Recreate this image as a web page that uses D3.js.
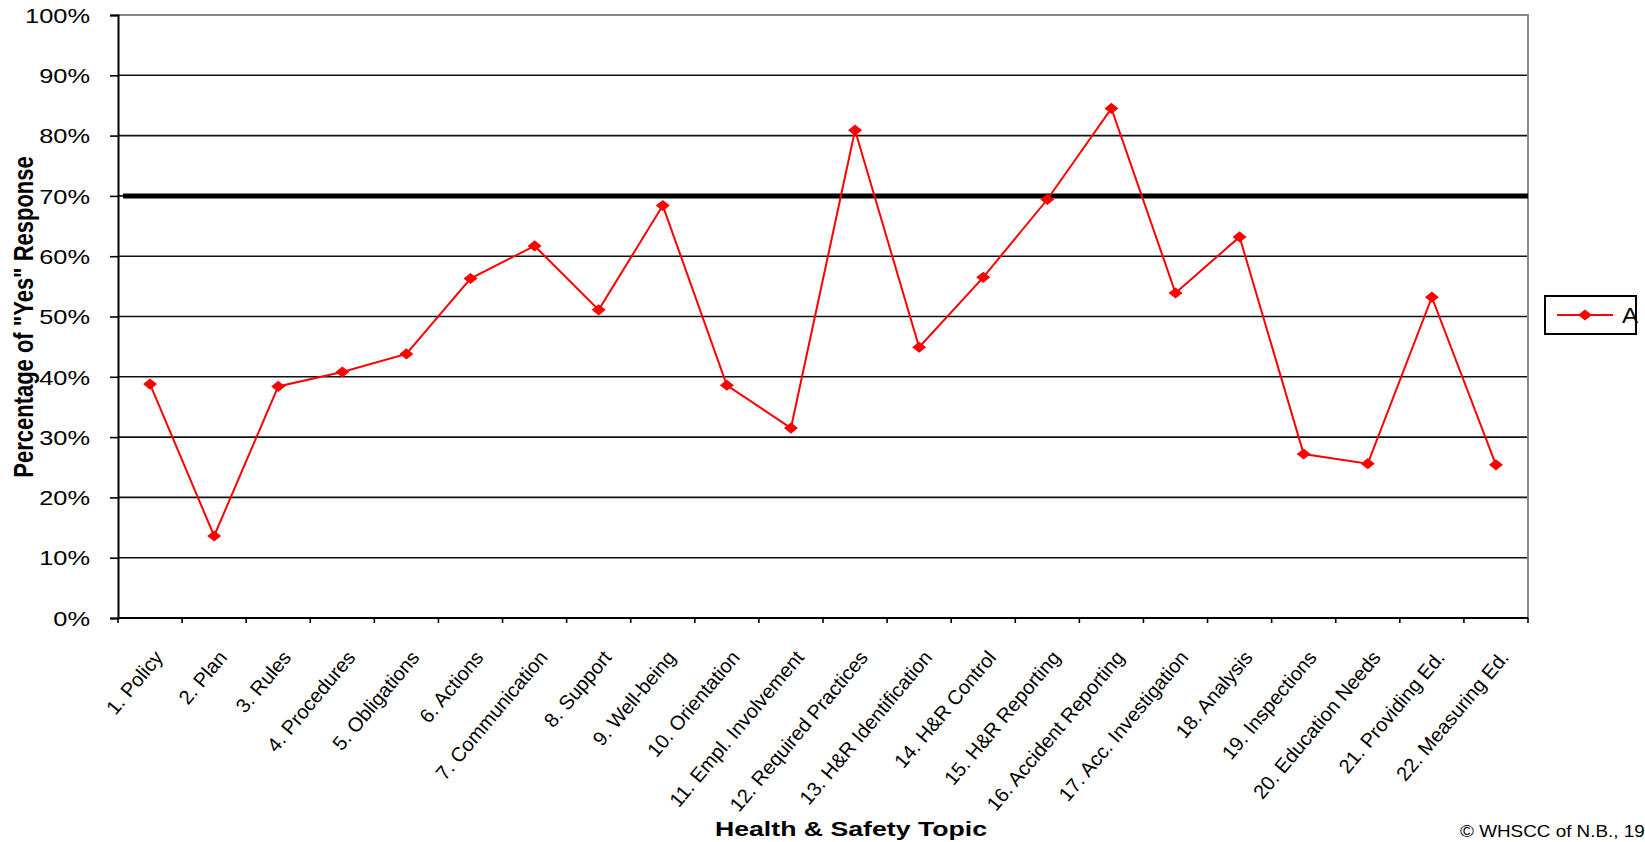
<!DOCTYPE html>
<html>
<head>
<meta charset="utf-8">
<script src="https://cdn.jsdelivr.net/npm/d3@7"></script>
<style>
  body { margin: 0; background: #fff; }
  text { font-family: "Liberation Sans", Arial, sans-serif; }
</style>
</head>
<body>
<div id="container"></div>
<script>
//------------------------DATA------------------------//
const topics = [
  '1. Policy', '2. Plan', '3. Rules', '4. Procedures', '5. Obligations',
  '6. Actions', '7. Communication', '8. Support', '9. Well-being',
  '10. Orientation', '11. Empl. Involvement', '12. Required Practices',
  '13. H&R Identification', '14. H&R Control', '15. H&R Reporting',
  '16. Accident Reporting', '17. Acc. Investigation', '18. Analysis',
  '19. Inspections', '20. Education Needs', '21. Providing Ed.', '22. Measuring Ed.'
];
const seriesA = [38.8, 13.6, 38.4, 40.8, 43.8, 56.3, 61.7, 51.1, 68.4, 38.6, 31.5,
  80.9, 44.9, 56.5, 69.4, 84.5, 53.9, 63.2, 27.2, 25.6, 53.2, 25.4];
const yTicks = [0, 10, 20, 30, 40, 50, 60, 70, 80, 90, 100];
const target = 70;
const seriesName = 'A';

//------------------------SVG PREPARATION------------------------//
const width = 1645;
const height = 842;
const plotL = 118, plotR = 1528, plotT = 15, plotB = 618;
const stretch = 1.27; // the original text is drawn wide

const svg = d3.select('#container').append('svg')
  .attr('width', width)
  .attr('height', height);

const x = d3.scaleBand().domain(topics).range([plotL, plotR]);
const y = d3.scaleLinear().domain([0, 100]).range([plotB, plotT]);

// gridlines
svg.append('g')
  .selectAll('line')
  .data(yTicks.filter(d => d > 0 && d < 100))
  .enter()
  .append('line')
  .attr('x1', plotL).attr('x2', plotR)
  .attr('y1', d => y(d)).attr('y2', d => y(d))
  .attr('stroke', '#111')
  .attr('stroke-width', 1.6);

// top and right border (grey)
svg.append('path')
  .attr('d', `M${plotL},${y(100)}H${plotR}V${plotB}`)
  .attr('fill', 'none')
  .attr('stroke', '#888')
  .attr('stroke-width', 2);

// target line at 70%
svg.append('line')
  .attr('x1', plotL + 5).attr('x2', plotR)
  .attr('y1', y(target)).attr('y2', y(target))
  .attr('stroke', '#000')
  .attr('stroke-width', 5);

// y axis
const yAxis = svg.append('g')
  .attr('transform', `translate(${plotL},0)`)
  .call(d3.axisLeft(y).tickValues(yTicks).tickFormat(d => d + '%').tickSize(8).tickPadding(20));
yAxis.select('.domain').attr('stroke', '#000').attr('stroke-width', 2);
yAxis.selectAll('.tick line').attr('stroke', '#000').attr('stroke-width', 1.6);
yAxis.selectAll('.tick text')
  .attr('x', 0)
  .attr('transform', `translate(-28,0) scale(${stretch},1)`)
  .attr('font-size', 20)
  .attr('fill', '#000')
  .attr('dy', '0.36em');

// x axis: ticks on category boundaries
svg.append('line')
  .attr('x1', plotL).attr('x2', plotR)
  .attr('y1', plotB).attr('y2', plotB)
  .attr('stroke', '#000').attr('stroke-width', 2);
svg.append('g')
  .selectAll('line')
  .data(topics)
  .enter()
  .append('line')
  .attr('x1', d => x(d) + x.bandwidth()).attr('x2', d => x(d) + x.bandwidth())
  .attr('y1', plotB).attr('y2', plotB + 5)
  .attr('stroke', '#000').attr('stroke-width', 1.6);
svg.append('line')
  .attr('x1', plotL).attr('x2', plotL)
  .attr('y1', plotB).attr('y2', plotB + 5)
  .attr('stroke', '#000').attr('stroke-width', 1.6);

svg.append('g')
  .selectAll('text')
  .data(topics)
  .enter()
  .append('text')
  .attr('transform', d => `translate(${x(d) + x.bandwidth() / 2 + 14},${plotB + 40}) rotate(-50)`)
  .attr('text-anchor', 'end')
  .attr('font-size', 20)
  .attr('fill', '#000')
  .text(d => d);

// series line
const line = d3.line()
  .x((d, i) => x(topics[i]) + x.bandwidth() / 2)
  .y(d => y(d));

svg.append('path')
  .datum(seriesA)
  .attr('d', line)
  .attr('fill', 'none')
  .attr('stroke', '#ff0000')
  .attr('stroke-width', 2);

const diamond = d3.symbol().type(d3.symbolDiamond2).size(80);
svg.append('g')
  .selectAll('path')
  .data(seriesA)
  .enter()
  .append('path')
  .attr('d', diamond)
  .attr('transform', (d, i) => `translate(${x(topics[i]) + x.bandwidth() / 2},${y(d)}) scale(1.25,1)`)
  .attr('fill', '#ff0000');

// axis titles
svg.append('text')
  .attr('transform', `translate(851,836) scale(${stretch},1)`)
  .attr('text-anchor', 'middle')
  .attr('font-size', 21)
  .attr('font-weight', 'bold')
  .text('Health & Safety Topic');

svg.append('text')
  .attr('transform', `translate(33,317) scale(${stretch},1) rotate(-90)`)
  .attr('text-anchor', 'middle')
  .attr('font-size', 22)
  .attr('font-weight', 'bold')
  .text('Percentage of "Yes" Response');

// legend
const legend = svg.append('g');
legend.append('rect')
  .attr('x', 1545).attr('y', 296)
  .attr('width', 91).attr('height', 38)
  .attr('fill', '#fff')
  .attr('stroke', '#000')
  .attr('stroke-width', 2);
legend.append('line')
  .attr('x1', 1557).attr('x2', 1613)
  .attr('y1', 315).attr('y2', 315)
  .attr('stroke', '#ff0000').attr('stroke-width', 2);
legend.append('path')
  .attr('d', diamond)
  .attr('transform', 'translate(1585,315) scale(1.25,1)')
  .attr('fill', '#ff0000');
legend.append('text')
  .attr('transform', 'translate(1622,323) scale(1.1,1)')
  .attr('font-size', 22)
  .text(seriesName);

// credit line
svg.append('text')
  .attr('transform', 'translate(1460,837) scale(1.18,1)')
  .attr('font-size', 16)
  .text('© WHSCC of N.B., 19');
</script>
</body>
</html>
